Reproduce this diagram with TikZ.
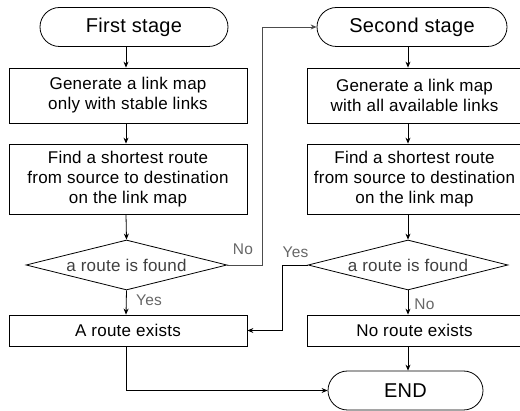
\documentclass[tikz,border=0pt]{standalone}
\usepackage{fontspec}
\setmainfont[LetterSpace=1.5]{Liberation Sans}
\usetikzlibrary{shapes.misc,shapes.geometric,arrows.meta}
\begin{document}
\begin{tikzpicture}[x=1pt,y=-1pt,
  line width=0.8pt,
  every node/.style={font=\fontsize{17}{20}\selectfont, inner sep=0pt},
  term/.style={draw, rounded rectangle, minimum height=39pt, align=center,
               font=\fontsize{20}{22}\selectfont},
  proc/.style={draw, rectangle, align=center},
  dec/.style={draw, diamond, aspect=4, minimum width=201pt, minimum height=50pt,
              text=black!75},
  lbl/.style={text=black!60, font=\fontsize{15.5}{17}\selectfont},
  arr/.style={-{Stealth[length=6pt,width=5pt]}}]
\useasboundingbox (0,0) rectangle (520,411);

% left column
\node[term, minimum width=188pt] (fs) at (134,27) {First stage};
\node[proc, minimum width=238pt, minimum height=55pt] (b1) at (128,95.5)
  {Generate a link map\\only with stable links};
\node[proc, minimum width=238pt, minimum height=70pt] (b2) at (128,179)
  {Find a shortest route\\from source to destination\\on the link map};
\node[dec] (d1) at (126.5,265) {a route is found};
\node[proc, minimum width=238pt, minimum height=31pt] (r1) at (128,330.5) {A route exists};

% right column (boxes run past the right border)
\node[term, minimum width=190pt] (ss) at (412,27) {Second stage};
\node[proc, minimum width=215pt, minimum height=55pt] (b3) at (414.5,95.5)
  {Generate a link map\\with all available links};
\node[proc, minimum width=215pt, minimum height=70pt] (b4) at (414.5,179)
  {Find a shortest route\\from source to destination\\on the link map};
\node[dec, minimum width=200pt] (d2) at (408,265) {a route is found};
\node[proc, minimum width=215pt, minimum height=31pt] (r2) at (414.5,330.5) {No route exists};
\node[term, minimum width=155pt] (end) at (405.5,390.5) {END};

% column axes for the vertical flow
\coordinate (cl) at (126,0);
\coordinate (cr) at (408,0);
\coordinate (jno) at (262,0);
\coordinate (jyes) at (282,0);

% main flow
\draw[arr] (fs.south -| cl) -- (b1.north -| cl);
\draw[arr] (b1.south -| cl) -- (b2.north -| cl);
\draw[arr] (b2.south -| cl) -- (d1.north);
\draw[arr] (d1.south) -- (r1.north -| cl);
\draw[arr] (r1.south -| cl) |- (end.west);

\draw[arr] (ss.south -| cr) -- (b3.north -| cr);
\draw[arr] (b3.south -| cr) -- (b4.north -| cr);
\draw[arr] (b4.south -| cr) -- (d2.north);
\draw[arr] (d2.south) -- (r2.north -| cr);
\draw[arr] (r2.south -| cr) -- (end.north -| cr);

% branches between the columns
\draw[arr, draw=black!70] (d1.east) -- (d1.east -| jno) |- (ss.west);
\draw[arr] (d2.west) -- (d2.west -| jyes) |- (r1.east);

% branch labels
\node[lbl] (lno1) at (243,249) {No};
\node[lbl] (lyes1) at (149,300) {Yes};
\node[lbl] (lyes2) at (295.5,252) {Yes};
\node[lbl] (lno2) at (424.5,304) {No};
\end{tikzpicture}
\end{document}
